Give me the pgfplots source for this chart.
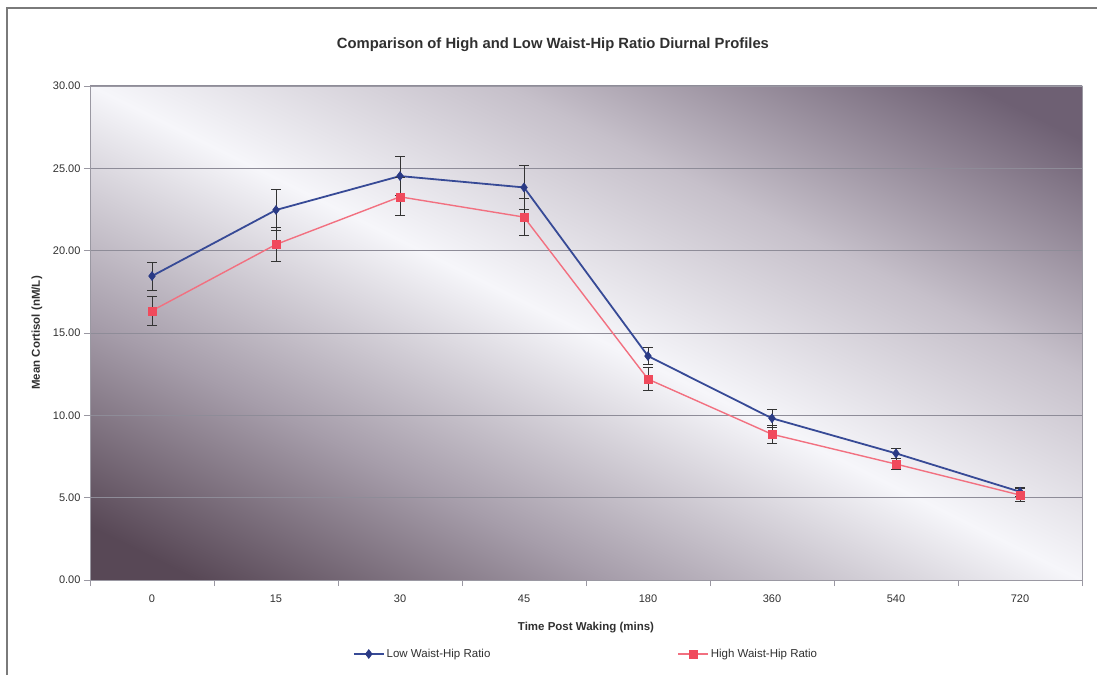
\documentclass[border=0pt]{standalone}
\usepackage{pgfplots}
\usepackage{pgfplotstable}
\pgfplotsset{compat=1.18}
\usepackage{fontspec}
\setmainfont{Liberation Sans}
\definecolor{lowblue}{HTML}{374A96}
\definecolor{lowbluemark}{HTML}{2A3A85}
\definecolor{highred}{HTML}{F27080}
\definecolor{highredmark}{HTML}{F04A5C}
\definecolor{gridgrey}{HTML}{8E8C98}
\definecolor{axisgrey}{HTML}{9A98A2}
\definecolor{framegrey}{HTML}{7A7A7A}
\definecolor{textgrey}{HTML}{303030}
\definecolor{bgdarkA}{HTML}{584856}
\definecolor{bgmidA}{HTML}{A69DAA}
\definecolor{bgwhite}{HTML}{F6F6FA}
\definecolor{bgmidB}{HTML}{C6C0CA}
\definecolor{bgdarkB}{HTML}{6E6073}
\pgfdeclarehorizontalshading{bgshade}{100bp}{color(0bp)=(bgdarkA); color(20bp)=(bgdarkA); color(34bp)=(bgmidA); color(50bp)=(bgwhite); color(64bp)=(bgmidB); color(80bp)=(bgdarkB); color(100bp)=(bgdarkB)}

\pgfplotstableread{
x y e
0 18.46 0.85
1 22.47 1.23
2 24.53 1.20
3 23.84 1.36
4 13.60 0.53
5 9.82 0.54
6 7.69 0.30
7 5.36 0.28
}\lowdata

\pgfplotstableread{
x y e
0 16.35 0.87
1 20.38 1.04
2 23.27 1.15
3 22.04 1.14
4 12.20 0.68
5 8.85 0.55
6 7.04 0.34
7 5.16 0.38
}\highdata

\begin{document}
\begin{tikzpicture}
\useasboundingbox (0pt,0pt) rectangle (1097pt,675pt);
\draw[framegrey, line width=1.2pt] (7pt,0pt) -- (7pt,667pt) -- (1097pt,667pt);
\begin{axis}[
  at={(90pt,95pt)}, anchor=south west,
  width=992pt, height=494pt, scale only axis,
  xmin=-0.5, xmax=7.5, ymin=0, ymax=30,
  xtick={-0.5,0.5,...,7.5}, xticklabels={{},{},{},{},{},{},{},{},{}},
  extra x ticks={0,1,2,3,4,5,6,7},
  extra x tick labels={0,15,30,45,180,360,540,720},
  extra x tick style={major tick length=0pt, grid=none},
  ytick={0,5,...,30},
  yticklabel style={/pgf/number format/.cd, fixed, fixed zerofill, precision=2, assume math mode=true},
  tick pos=left, tick align=outside, major tick length=6pt,
  tick style={axisgrey, line width=0.8pt},
  ymajorgrids, major grid style={gridgrey, line width=1pt},
  axis line style={axisgrey, line width=0.8pt},
  axis background/.style={shade, shading=bgshade, shading angle=63.5},
  ticklabel style={font=\fontsize{11}{13}\selectfont, text=textgrey},
  xticklabel style={yshift=-11pt},
  title={Comparison of High and Low Waist-Hip Ratio Diurnal Profiles},
  title style={at={(axis description cs:0.4667,1.071)}, anchor=center, font=\bfseries\fontsize{14.8}{17}\selectfont, text=textgrey},
  xlabel={Time Post Waking (mins)},
  xlabel style={at={(axis description cs:0.5,-0.096)}, anchor=center, font=\bfseries\fontsize{11.5}{13}\selectfont, text=textgrey},
  ylabel={Mean Cortisol (nM/L)},
  ylabel style={at={(axis description cs:-0.0534,0.5)}, anchor=center, font=\bfseries\fontsize{11.5}{13}\selectfont, text=textgrey},
  legend columns=2,
  legend style={at={(axis description cs:0.5,-0.1498)}, anchor=center, draw=none, fill=none, font=\fontsize{11.5}{13}\selectfont, text=textgrey, /tikz/every even column/.append style={column sep=185pt}},
  legend cell align=left,
  legend image code/.code={\draw[mark repeat=2,mark phase=2,#1] plot coordinates {(0pt,0pt) (15pt,0pt) (30pt,0pt)};},
  error bars/error bar style={black!80, line width=1pt},
  error bars/error mark options={rotate=90, mark size=5pt, line width=1pt, black!80},
]
\addplot[lowblue, line width=1.8pt, mark=diamond*, mark size=4.5pt, mark options={fill=lowbluemark, draw=lowbluemark, line width=0.5pt},
  error bars/.cd, y dir=both, y explicit]
  table[x=x, y=y, y error=e] {\lowdata};
\addlegendentry{Low Waist-Hip Ratio}
\addplot[highred, line width=1.4pt, mark=square*, mark size=4pt, mark options={fill=highredmark, draw=highredmark, line width=0.5pt},
  error bars/.cd, y dir=both, y explicit]
  table[x=x, y=y, y error=e] {\highdata};
\addlegendentry{High Waist-Hip Ratio}
\end{axis}
\end{tikzpicture}
\end{document}
